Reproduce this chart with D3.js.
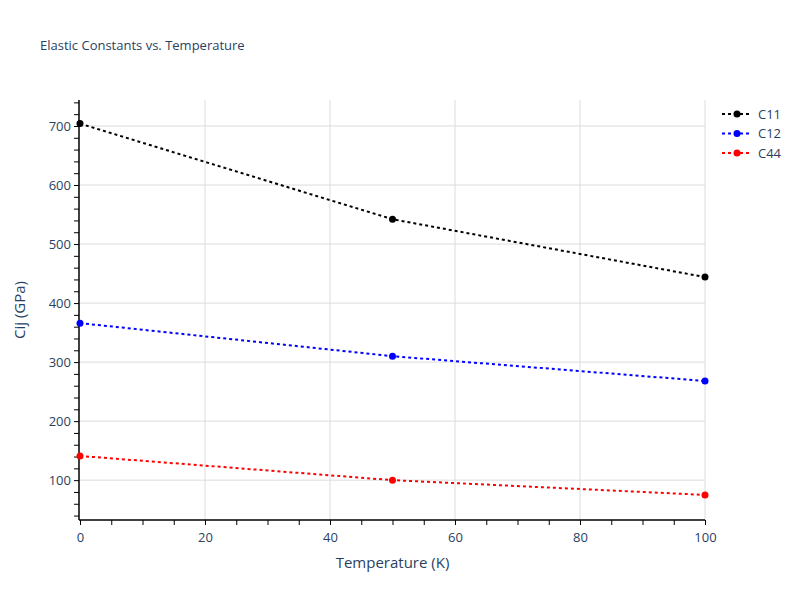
<!DOCTYPE html>
<html lang="en">
<head>
<meta charset="UTF-8">
<title>Elastic Constants vs. Temperature</title>
<script src="https://d3js.org/d3.v7.min.js"></script>
<style>
  body { margin: 0; background: #fff; font-family: "Open Sans", sans-serif; }
</style>
</head>
<body>
<div id="chart"></div>
<script>
// data
const temps = [0, 50, 100];
const c11 = [704, 542, 444];
const c12 = [366, 310, 268];
const c44 = [141, 100, 75];
const seriesNames = ["C11", "C12", "C44"];
const seriesColors = ["black", "blue", "red"];

const width = 800, height = 600;
const m = { left: 80, right: 95, top: 100, bottom: 80 };

const svg = d3.select("#chart").append("svg")
  .attr("width", width).attr("height", height);

const x = d3.scaleLinear().domain([0, 100]).range([m.left, width - m.right]);
const y = d3.scaleLinear().domain([32.5, 744]).range([height - m.bottom, m.top]);

// grid
svg.append("g").selectAll("line").data(d3.range(20, 101, 20)).join("line")
  .attr("x1", d => x(d)).attr("x2", d => x(d))
  .attr("y1", m.top).attr("y2", height - m.bottom)
  .attr("stroke", "#dcdcdc");
svg.append("g").selectAll("line").data(d3.range(100, 701, 100)).join("line")
  .attr("x1", m.left).attr("x2", width - m.right)
  .attr("y1", d => y(d)).attr("y2", d => y(d))
  .attr("stroke", "#dcdcdc");

// axes
const xAxis = svg.append("g").attr("transform", `translate(0,${height - m.bottom})`)
  .call(d3.axisBottom(x).tickValues(d3.range(0, 101, 5)).tickSize(5)
    .tickFormat(d => d % 20 === 0 ? d : ""));
const yAxis = svg.append("g").attr("transform", `translate(${m.left - 1},0)`)
  .call(d3.axisLeft(y).tickValues(d3.range(40, 741, 20)).tickSize(5)
    .tickFormat(d => d % 100 === 0 ? d : ""));
[xAxis, yAxis].forEach(a => {
  a.select(".domain").attr("stroke", "#000").attr("stroke-width", 1.5)
    .attr("d", a === xAxis ? `M${m.left - 1},0H${width - m.right}` : `M0,${m.top}V${height - m.bottom}`);
  a.selectAll(".tick line").attr("stroke", "#000");
  a.selectAll("text").attr("fill", "#2a3f5f").style("font-size", "13px")
    .style("font-family", "'Open Sans', sans-serif");
});
xAxis.selectAll("text").attr("dy", "1.1em");

// lines
const allSeries = [c11, c12, c44];
const line = d3.line().x((d, i) => x(temps[i])).y(d => y(d));
allSeries.forEach((vals, s) => {
  svg.append("path").datum(vals).attr("d", line)
    .attr("fill", "none").attr("stroke", seriesColors[s])
    .attr("stroke-width", 2).attr("stroke-dasharray", "3,3");
  svg.append("g").selectAll("circle").data(vals).join("circle")
    .attr("cx", (d, i) => x(temps[i])).attr("cy", d => y(d)).attr("r", 3.5)
    .attr("fill", seriesColors[s]);
});

// legend
const lg = svg.append("g").attr("transform", "translate(722,114)");
seriesNames.forEach((n, i) => {
  const g = lg.append("g").attr("transform", `translate(0,${i * 19.5})`);
  g.append("line").attr("x1", 0).attr("x2", 30).attr("stroke", seriesColors[i])
    .attr("stroke-width", 2).attr("stroke-dasharray", "3,3");
  g.append("circle").attr("cx", 15).attr("r", 3.5).attr("fill", seriesColors[i]);
  g.append("text").attr("x", 36).attr("dy", "0.35em").text(n)
    .attr("fill", "#2a3f5f").style("font-size", "13px");
});

// titles
svg.append("text").attr("x", 40).attr("y", 50).text("Elastic Constants vs. Temperature")
  .attr("fill", "#2a3f5f").style("font-size", "13px");
svg.append("text").attr("x", x(50)).attr("y", 568).attr("text-anchor", "middle")
  .text("Temperature (K)").attr("fill", "#2a3f5f").style("font-size", "15px");
svg.append("text").attr("transform", `translate(25,${(m.top + height - m.bottom) / 2}) rotate(-90)`)
  .attr("text-anchor", "middle").text("Cij (GPa)")
  .attr("fill", "#2a3f5f").style("font-size", "15px");
</script>
</body>
</html>
